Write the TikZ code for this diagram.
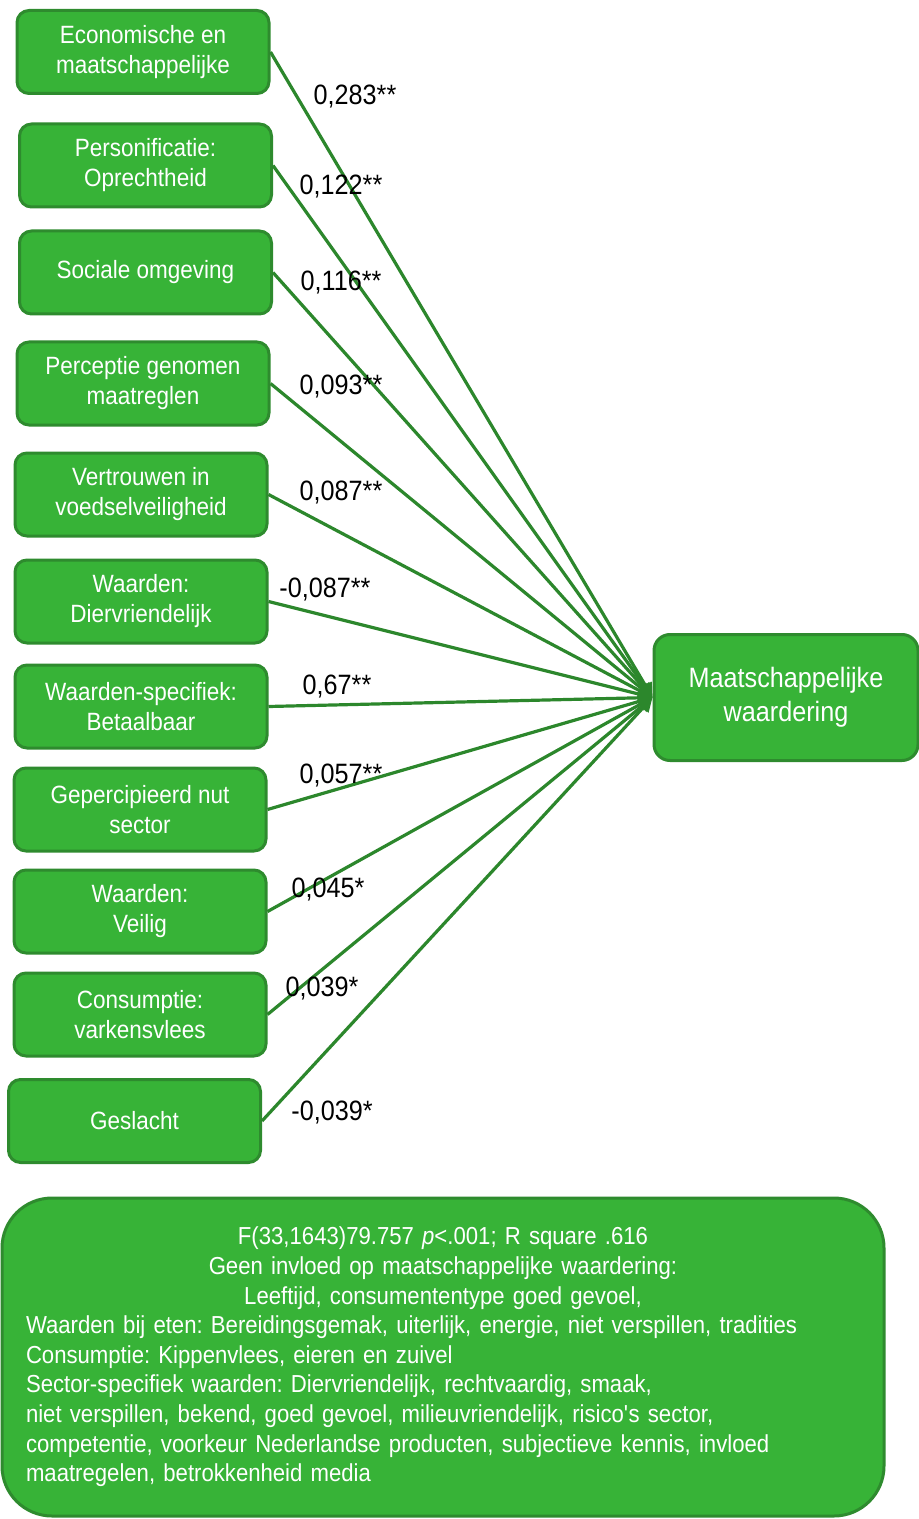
\documentclass[tikz,border=0pt]{standalone}
\usepackage{fontspec}
\setmainfont[FakeStretch=0.9]{Liberation Sans}
\usetikzlibrary{arrows.meta}
\definecolor{boxgreen}{HTML}{37B337}
\definecolor{edgegreen}{HTML}{2E8B2E}
\definecolor{linegreen}{HTML}{2C872C}

\begin{document}
\begin{tikzpicture}[x=0.5pt, y=-0.5pt,
        factor/.style={rectangle, rounded corners=6pt, draw=edgegreen, line width=1.5pt,
          fill=boxgreen, text=white, minimum width=126pt, minimum height=41.5pt,
          inner sep=2pt, align=center, font=\fontsize{12.5}{15}\selectfont},
        outcome/.style={factor, minimum width=132pt, minimum height=63pt,
          rounded corners=8pt, font=\fontsize{14}{17}\selectfont},
        coef/.style={inner sep=0pt, font=\fontsize{14}{16}\selectfont},
        infl/.style={draw=linegreen, line width=1.6pt, -{Triangle[length=7pt, width=7pt]}}
      ]
      \useasboundingbox (0,0) rectangle (918,1519);
      % factoren
      \node[factor] (F1)  at (143,52)     {Economische en\\maatschappelijke};
      \node[factor] (F2)  at (145.5,165.5) {Personificatie:\\Oprechtheid};
      \node[factor] (F3)  at (145.5,272.5) {Sociale omgeving};
      \node[factor] (F4)  at (143,383.5)   {Perceptie genomen\\maatreglen};
      \node[factor] (F5)  at (141,494.5)   {Vertrouwen in\\voedselveiligheid};
      \node[factor] (F6)  at (141,601.5)   {Waarden:\\Diervriendelijk};
      \node[factor] (F7)  at (141,706.5)   {Waarden-specifiek:\\Betaalbaar};
      \node[factor] (F8)  at (140,809.5)   {Gepercipieerd nut\\sector};
      \node[factor] (F9)  at (140,911.5)   {Waarden:\\Veilig};
      \node[factor] (F10) at (140,1014.5)  {Consumptie:\\varkensvlees};
      \node[factor] (F11) at (134.5,1121)  {Geslacht};
      % uitkomst
      \node[outcome] (MW) at (786,697.5) {Maatschappelijke\\waardering};
      % pijlen
      \foreach \i in {1,...,11}
        \draw[infl] (F\i.east) -- (MW.west);
      % coefficienten
      \node[coef] (C1)  at (355,97)   {0,283**};
      \node[coef] (C2)  at (341,187)  {0,122**};
      \node[coef] (C3)  at (341,283)  {0,116**};
      \node[coef] (C4)  at (341,387)  {0,093**};
      \node[coef] (C5)  at (341,493)  {0,087**};
      \node[coef] (C6)  at (325,590)  {-0,087**};
      \node[coef] (C7)  at (337,687)  {0,67**};
      \node[coef] (C8)  at (341,776)  {0,057**};
      \node[coef] (C9)  at (328,890)  {0,045*};
      \node[coef] (C10) at (322,989)  {0,039*};
      \node[coef] (C11) at (332,1113) {-0,039*};
      % toelichting
      \node[factor, rounded corners=25pt, minimum width=441pt, minimum height=159pt,
            text width=417pt, align=left, font=\fontsize{12.3}{14.8}\selectfont\frenchspacing] (NB) at (443,1357)
        {{\centering F(33,1643)79.757 \textit{p}<.001; R square .616\\
          Geen invloed op maatschappelijke waardering:\\
          Leeftijd, consumententype goed gevoel,\par}
         \raggedright
         Waarden bij eten: Bereidingsgemak, uiterlijk, energie, niet verspillen, tradities\\
         Consumptie: Kippenvlees, eieren en zuivel\\
         Sector-specifiek waarden: Diervriendelijk, rechtvaardig, smaak,\\
         niet verspillen, bekend, goed gevoel, milieuvriendelijk, risico\textquotesingle s sector,\\
         competentie, voorkeur Nederlandse producten, subjectieve kennis, invloed\\
         maatregelen, betrokkenheid media\par};
\end{tikzpicture}
\end{document}
